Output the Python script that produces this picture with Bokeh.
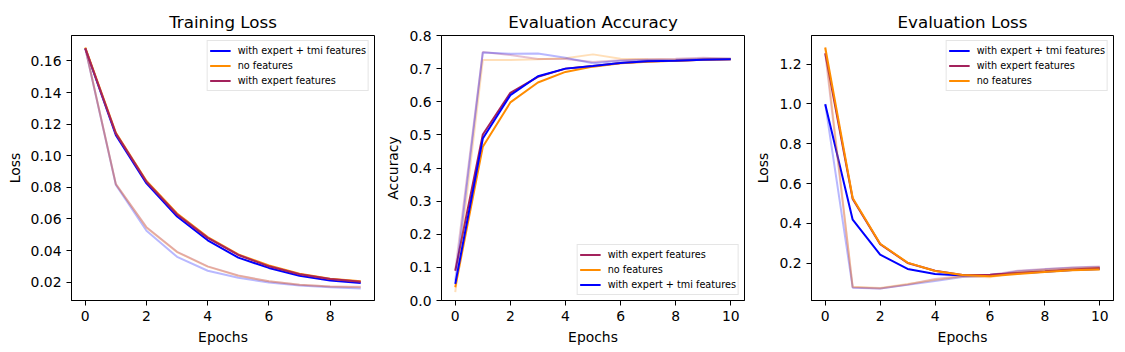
from bokeh.plotting import figure
from bokeh.layouts import row
from bokeh.models import Range1d, FixedTicker, PrintfTickFormatter, Legend, LegendItem
from bokeh.embed import file_html
from bokeh.resources import INLINE

FONT = "DejaVu Sans"
BLUE = "#0000ff"
ORANGE = "#ff8c00"
PURPLE = "#a3225c"

LBL_TMI = "with expert + tmi features"
LBL_NONE = "no features"
LBL_EXPERT = "with expert features"

train_epochs = list(range(10))
eval_epochs = list(range(11))

# Training loss (bold = main curves, faint = companion curves)
train_tmi = [0.168, 0.113, 0.0825, 0.0615, 0.0465, 0.0355, 0.0290, 0.0240, 0.0210, 0.0195]
train_none = [0.1685, 0.1145, 0.0840, 0.0635, 0.0485, 0.0375, 0.0305, 0.0253, 0.0222, 0.0205]
train_expert = [0.168, 0.114, 0.0835, 0.0628, 0.0480, 0.0372, 0.0300, 0.0250, 0.0220, 0.0203]
train_tmi_f = [0.168, 0.0815, 0.0525, 0.0360, 0.0272, 0.0228, 0.0198, 0.0178, 0.0168, 0.0160]
train_none_f = [0.1685, 0.0820, 0.0545, 0.0390, 0.0298, 0.0240, 0.0205, 0.0183, 0.0172, 0.0168]
train_expert_f = [0.168, 0.0820, 0.0548, 0.0392, 0.0300, 0.0242, 0.0206, 0.0184, 0.0173, 0.0170]

# Evaluation accuracy
acc_expert = [0.09, 0.501, 0.627, 0.675, 0.700, 0.708, 0.717, 0.722, 0.724, 0.727, 0.728]
acc_none = [0.04, 0.464, 0.598, 0.658, 0.690, 0.706, 0.716, 0.721, 0.724, 0.727, 0.728]
acc_tmi = [0.05, 0.489, 0.620, 0.677, 0.700, 0.708, 0.717, 0.722, 0.724, 0.727, 0.728]
acc_expert_f = [0.09, 0.750, 0.741, 0.729, 0.729, 0.720, 0.725, 0.728, 0.730, 0.733, 0.730]
acc_none_f = [0.025, 0.726, 0.726, 0.728, 0.731, 0.743, 0.730, 0.728, 0.727, 0.730, 0.730]
acc_tmi_f = [0.06, 0.749, 0.745, 0.746, 0.733, 0.716, 0.724, 0.726, 0.727, 0.730, 0.730]

# Evaluation loss
eloss_tmi = [0.999, 0.418, 0.242, 0.170, 0.145, 0.137, 0.140, 0.148, 0.156, 0.165, 0.170]
eloss_expert = [1.255, 0.522, 0.295, 0.200, 0.161, 0.140, 0.141, 0.150, 0.158, 0.167, 0.175]
eloss_none = [1.284, 0.527, 0.297, 0.202, 0.160, 0.140, 0.133, 0.145, 0.155, 0.163, 0.167]
eloss_tmi_f = [1.000, 0.076, 0.072, 0.090, 0.110, 0.130, 0.135, 0.158, 0.168, 0.176, 0.180]
eloss_expert_f = [1.255, 0.078, 0.072, 0.092, 0.120, 0.135, 0.140, 0.161, 0.170, 0.178, 0.183]
eloss_none_f = [1.284, 0.080, 0.074, 0.094, 0.115, 0.132, 0.128, 0.155, 0.165, 0.172, 0.178]

train_xticks = [0, 2, 4, 6, 8]
eval_xticks = [0, 2, 4, 6, 8, 10]
train_yticks = [0.02, 0.04, 0.06, 0.08, 0.10, 0.12, 0.14, 0.16]
acc_yticks = [0.0, 0.1, 0.2, 0.3, 0.4, 0.5, 0.6, 0.7, 0.8]
eloss_yticks = [0.2, 0.4, 0.6, 0.8, 1.0, 1.2]


def padded(values, frac=0.05):
    lo, hi = min(values), max(values)
    pad = (hi - lo) * frac
    return Range1d(lo - pad, hi + pad)


def make_fig(title, ylabel, xr, yr, xticks, yticks, yfmt, ml, mr, fw):
    p = figure(title=title, output_backend="svg", toolbar_location=None,
               frame_width=fw, frame_height=265, x_range=xr, y_range=yr,
               min_border_left=ml, min_border_right=mr,
               min_border_top=35, min_border_bottom=42)
    p.title.text_font = FONT
    p.title.text_font_size = "16.7px"
    p.title.text_font_style = "normal"
    p.title.align = "center"
    p.title.standoff = 8
    p.title.text_color = "black"
    p.grid.visible = False
    p.outline_line_color = "black"
    p.outline_line_alpha = 1
    p.outline_line_width = 1
    for ax in (p.xaxis[0], p.yaxis[0]):
        ax.major_tick_out = 5
        ax.major_tick_in = 0
        ax.minor_tick_out = 0
        ax.minor_tick_in = 0
        ax.major_label_standoff = 5
        ax.major_label_text_font = FONT
        ax.major_label_text_font_size = "13.9px"
        ax.major_label_text_color = "black"
        ax.axis_label_text_font = FONT
        ax.axis_label_text_font_size = "13.9px"
        ax.axis_label_text_font_style = "normal"
        ax.axis_label_text_color = "black"
        ax.axis_label_standoff = 5
        ax.axis_line_color = "black"
        ax.major_tick_line_color = "black"
    p.xaxis.axis_label = "Epochs"
    p.yaxis.axis_label = ylabel
    p.xaxis.ticker = FixedTicker(ticks=xticks)
    p.yaxis.ticker = FixedTicker(ticks=yticks)
    p.yaxis.formatter = PrintfTickFormatter(format=yfmt)
    return p


def add_series(p, x, series, loc):
    items = []
    for label, bold, faint, color in series:
        p.line(x, faint, line_color=color, line_width=2, line_alpha=0.28)
        r = p.line(x, bold, line_color=color, line_width=2)
        items.append(LegendItem(label=label, renderers=[r]))
    lg = Legend(items=items, location=loc)
    lg.label_text_font = FONT
    lg.label_text_font_size = "9.7px"
    lg.label_text_color = "black"
    lg.glyph_width = 21
    lg.glyph_height = 15
    lg.label_height = 15
    lg.label_standoff = 7
    lg.spacing = 0
    lg.padding = 2
    lg.margin = 5
    lg.border_line_color = "#cccccc"
    lg.border_line_width = 1
    lg.background_fill_alpha = 0.8
    p.add_layout(lg)


p1 = make_fig("Training Loss", "Loss", Range1d(-0.45, 9.45),
              padded(train_tmi + train_none + train_expert + train_tmi_f + train_none_f + train_expert_f),
              train_xticks, train_yticks, "%.2f", 71, 8, 303)
add_series(p1, train_epochs, [
    (LBL_TMI, train_tmi, train_tmi_f, BLUE),
    (LBL_NONE, train_none, train_none_f, ORANGE),
    (LBL_EXPERT, train_expert, train_expert_f, PURPLE),
], "top_right")

p2 = make_fig("Evaluation Accuracy", "Accuracy", Range1d(-0.5, 10.5), Range1d(0, 0.8),
              eval_xticks, acc_yticks, "%.1f", 57, 8, 303)
add_series(p2, eval_epochs, [
    (LBL_EXPERT, acc_expert, acc_expert_f, PURPLE),
    (LBL_NONE, acc_none, acc_none_f, ORANGE),
    (LBL_TMI, acc_tmi, acc_tmi_f, BLUE),
], "bottom_right")

p3 = make_fig("Evaluation Loss", "Loss", Range1d(-0.5, 10.5),
              padded(eloss_tmi + eloss_expert + eloss_none + eloss_tmi_f + eloss_expert_f + eloss_none_f),
              eval_xticks, eloss_yticks, "%.1f", 57, 4, 302)
add_series(p3, eval_epochs, [
    (LBL_TMI, eloss_tmi, eloss_tmi_f, BLUE),
    (LBL_EXPERT, eloss_expert, eloss_expert_f, PURPLE),
    (LBL_NONE, eloss_none, eloss_none_f, ORANGE),
], "top_right")

layout = row(p1, p2, p3)
open("out.html", "w").write(file_html(layout, INLINE))
